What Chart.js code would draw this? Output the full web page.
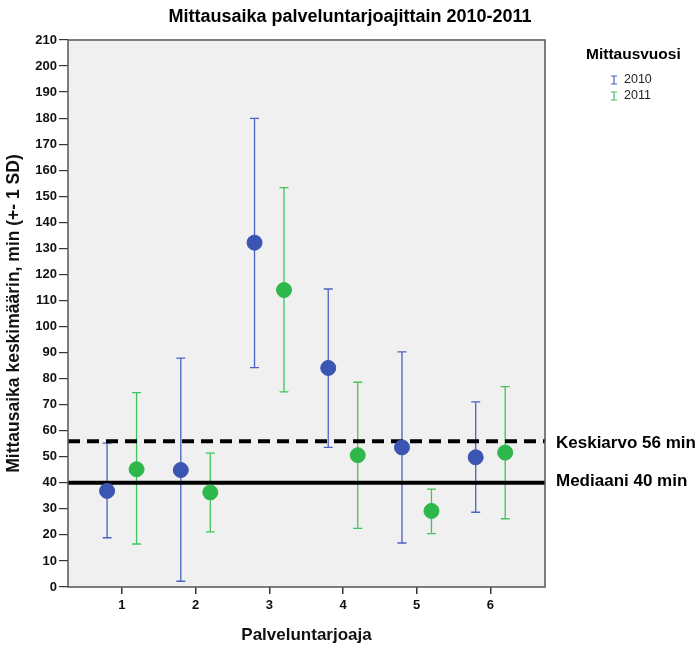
<!DOCTYPE html>
<html>
<head>
<meta charset="utf-8">
<script src="https://cdn.jsdelivr.net/npm/chart.js"></script>
<style>
  html, body { margin: 0; padding: 0; background: #fff; }
  #wrap { width: 700px; height: 650px; position: relative; }
</style>
</head>
<body>
<div id="wrap"><canvas id="chart"></canvas></div>
<script>
// Data
const providers = [1, 2, 3, 4, 5, 6];
const years = ["2010", "2011"];
const mean2010 = [36.9, 44.9, 132.2, 84.1, 53.6, 49.8];
const upper2010 = [55.2, 87.9, 179.9, 114.4, 90.3, 71.1];
const lower2010 = [18.9, 2.2, 84.2, 53.6, 16.9, 28.7];
const mean2011 = [45.2, 36.3, 114.0, 50.6, 29.2, 51.6];
const upper2011 = [74.6, 51.4, 153.3, 78.6, 37.6, 76.9];
const lower2011 = [16.5, 21.2, 74.9, 22.5, 20.5, 26.2];
const yTicks = [0, 10, 20, 30, 40, 50, 60, 70, 80, 90, 100, 110, 120, 130, 140, 150, 160, 170, 180, 190, 200, 210];
const overallMean = 56;
const overallMedian = 40;

const blue = "#3b55b2";
const blueBar = "#4a63bf";
const green = "#2eb84b";
const greenBar = "#3fc35c";
const offset = 0.2;

const pts2010 = providers.map((p, i) => ({ x: p - offset, y: mean2010[i], lo: lower2010[i], hi: upper2010[i] }));
const pts2011 = providers.map((p, i) => ({ x: p + offset, y: mean2011[i], lo: lower2011[i], hi: upper2011[i] }));

const font = "'Liberation Sans', Arial, sans-serif";

const decor = {
    id: "decor",
    beforeDatasetsDraw(chart) {
        const { ctx, chartArea: a, scales } = chart;
        ctx.save();
        // error bars
        chart.data.datasets.forEach((ds) => {
            ctx.strokeStyle = ds.barColor;
            ctx.lineWidth = 1.3;
            ds.data.forEach((d) => {
                const x = scales.x.getPixelForValue(d.x);
                const yl = scales.y.getPixelForValue(d.lo);
                const yh = scales.y.getPixelForValue(d.hi);
                ctx.beginPath();
                ctx.moveTo(x, yh); ctx.lineTo(x, yl);
                ctx.moveTo(x - 4.5, yh); ctx.lineTo(x + 4.5, yh);
                ctx.moveTo(x - 4.5, yl); ctx.lineTo(x + 4.5, yl);
                ctx.stroke();
            });
        });
        // reference lines
        ctx.strokeStyle = "#000";
        ctx.lineWidth = 4;
        ctx.setLineDash([12, 7]);
        let y = scales.y.getPixelForValue(overallMean);
        ctx.beginPath(); ctx.moveTo(a.left, y); ctx.lineTo(a.right, y); ctx.stroke();
        ctx.setLineDash([]);
        y = scales.y.getPixelForValue(overallMedian);
        ctx.beginPath(); ctx.moveTo(a.left, y); ctx.lineTo(a.right, y); ctx.stroke();
        ctx.restore();
    },
    beforeDraw(chart) {
        const { ctx, chartArea: a } = chart;
        ctx.save();
        ctx.fillStyle = "#f0f0f0";
        ctx.fillRect(a.left, a.top, a.right - a.left, a.bottom - a.top);
        ctx.restore();
    },
    afterDraw(chart) {
        const { ctx, chartArea: a, scales } = chart;
        ctx.save();
        ctx.strokeStyle = "#555";
        ctx.lineWidth = 1.5;
        ctx.strokeRect(a.left, a.top, a.right - a.left, a.bottom - a.top);
        // title
        ctx.fillStyle = "#000";
        ctx.textAlign = "center";
        ctx.textBaseline = "middle";
        ctx.font = "bold 18px " + font;
        ctx.fillText("Mittausaika palveluntarjoajittain 2010-2011", 350, 17);
        // line labels
        ctx.textAlign = "left";
        ctx.font = "bold 17px " + font;
        ctx.fillText("Keskiarvo " + overallMean + " min", 556, scales.y.getPixelForValue(overallMean) + 2, 142);
        ctx.fillText("Mediaani " + overallMedian + " min", 556, scales.y.getPixelForValue(overallMedian) - 1, 137);
        // legend
        ctx.font = "bold 15.5px " + font;
        ctx.fillText("Mittausvuosi", 586, 55);
        ctx.font = "12.5px " + font;
        const legendColors = [blueBar, greenBar];
        years.forEach((yr, i) => {
            const ly = 80 + i * 16;
            ctx.fillStyle = "#222";
            ctx.fillText(yr, 624, ly);
            ctx.strokeStyle = legendColors[i];
            ctx.lineWidth = 1.2;
            ctx.beginPath();
            ctx.moveTo(614, ly - 4); ctx.lineTo(614, ly + 4);
            ctx.moveTo(611, ly - 4); ctx.lineTo(617, ly - 4);
            ctx.moveTo(611, ly + 4); ctx.lineTo(617, ly + 4);
            ctx.stroke();
        });
        ctx.restore();
    },
};

new Chart(document.getElementById("chart"), {
    type: "scatter",
    data: {
        datasets: [
            {
                label: years[0],
                data: pts2010,
                backgroundColor: blue,
                borderColor: blue,
                barColor: blueBar,
                pointRadius: 7.5,
                pointHoverRadius: 7.5,
            },
            {
                label: years[1],
                data: pts2011,
                backgroundColor: green,
                borderColor: green,
                barColor: greenBar,
                pointRadius: 7.5,
                pointHoverRadius: 7.5,
            },
        ],
    },
    options: {
        responsive: true,
        maintainAspectRatio: false,
        animation: false,
        layout: { padding: { top: 40, right: 155, left: 0, bottom: 0 } },
        plugins: {
            legend: { display: false },
            tooltip: { enabled: false },
        },
        scales: {
            x: {
                type: "linear",
                min: 0.27,
                max: 6.74,
                afterBuildTicks: (scale) => { scale.ticks = providers.map((v) => ({ value: v })); },
                afterFit: (scale) => { scale.height = 63; },
                border: { display: false },
                grid: { drawOnChartArea: false, tickLength: 7, color: "#333", lineWidth: 1.5 },
                ticks: { color: "#111", font: { family: font, size: 13, weight: "bold" }, padding: 4 },
                title: {
                    display: true,
                    text: "Palveluntarjoaja",
                    color: "#111",
                    font: { family: font, size: 17, weight: "bold" },
                    padding: { top: 8 },
                },
            },
            y: {
                min: 0,
                max: 210,
                afterBuildTicks: (scale) => { scale.ticks = yTicks.map((v) => ({ value: v })); },
                afterFit: (scale) => { scale.width = 68; },
                border: { display: false },
                grid: { drawOnChartArea: false, tickLength: 9, color: "#333", lineWidth: 1.2 },
                ticks: { color: "#111", font: { family: font, size: 13, weight: "bold" }, padding: 2 },
                title: {
                    display: true,
                    text: "Mittausaika keskimäärin, min (+- 1 SD)",
                    color: "#111",
                    font: { family: font, size: 17.5, weight: "bold" },
                    padding: { bottom: 1 },
                },
            },
        },
    },
    plugins: [decor],
});
</script>
</body>
</html>
